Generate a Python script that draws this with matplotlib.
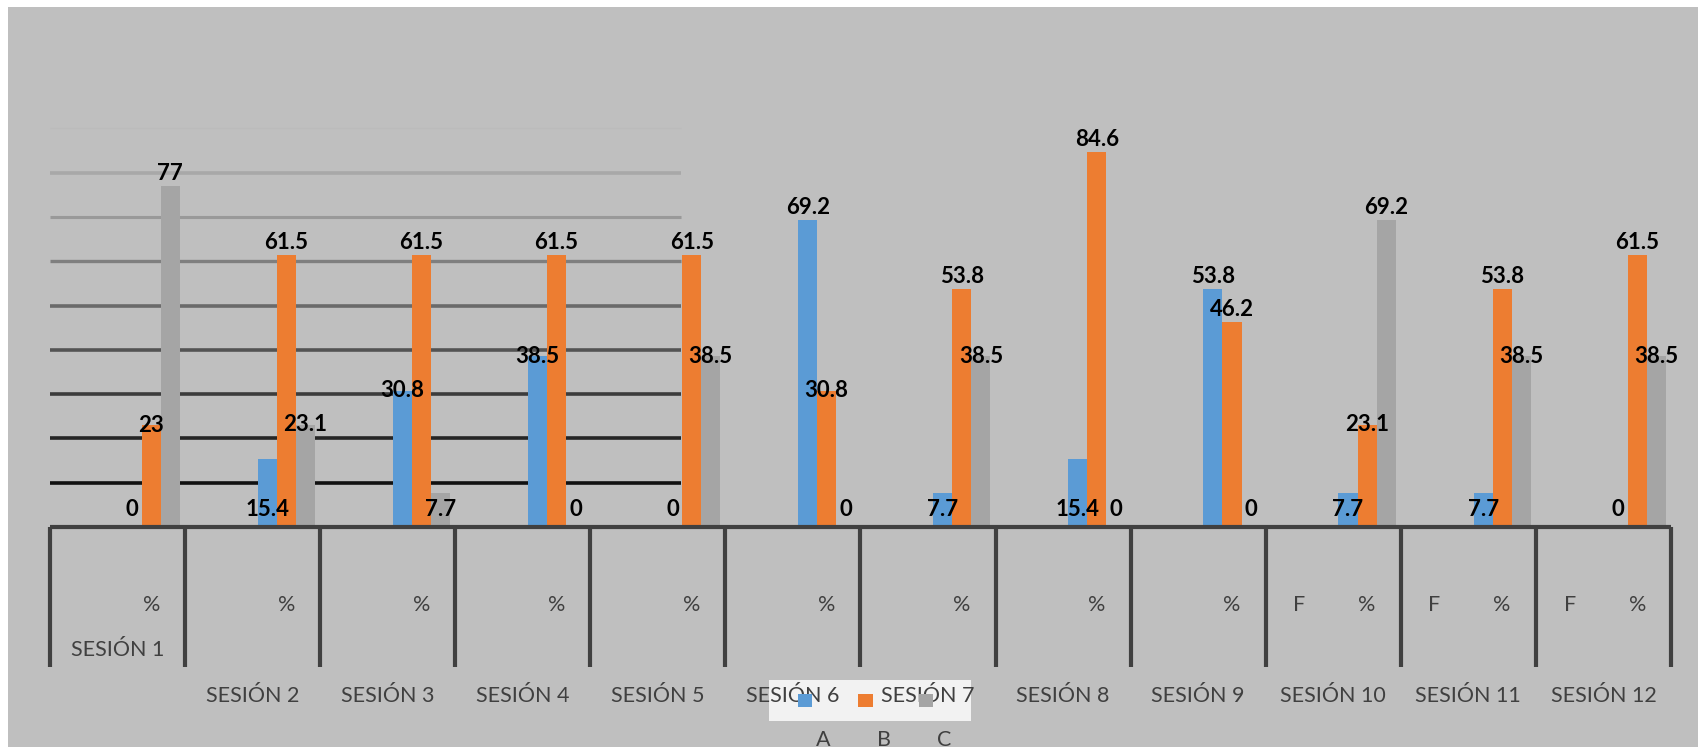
#Sesiones 1-12: porcentaje de respuestas A, B, C
import matplotlib
matplotlib.use("Agg")
import matplotlib.pyplot as plt
from matplotlib.patches import Rectangle

sessions = ["SESIÓN %d" % i for i in range(1, 13)]
series = ["A", "B", "C"]
colors = ["#5B9BD5", "#ED7D31", "#A5A5A5"]

vals_a = [0, 15.4, 30.8, 38.5, 0, 69.2, 7.7, 15.4, 53.8, 7.7, 7.7, 0]
vals_b = [23, 61.5, 61.5, 61.5, 61.5, 30.8, 53.8, 84.6, 46.2, 23.1, 53.8, 61.5]
vals_c = [77, 23.1, 7.7, 0, 38.5, 0, 38.5, 0, 0, 69.2, 38.5, 38.5]
values = [vals_a, vals_b, vals_c]

# inner level of the category axis ("F" only shown for the last three)
sub_f = ["", "", "", "", "", "", "", "", "", "F", "F", "F"]
sub_pct = ["%"] * 12

grid_levels = [10, 20, 30, 40, 50, 60, 70, 80, 90]
grid_colors = ["#111111", "#252525", "#3c3c3c", "#535353", "#6a6a6a",
               "#7f7f7f", "#999999", "#a8a8a8", "#bbbbbb"]
grid_widths = [2.6, 2.6, 2.6, 2.6, 2.6, 2.4, 2.2, 2.6, 1.0]

fam = ["Lato", "DejaVu Sans"]
txt_col = "#404040"

fig = plt.figure(figsize=(16.99, 7.47), dpi=100)
fig.patch.set_facecolor("white")
fig.patches.append(Rectangle((8 / 1699, 0), 1 - 8 / 1699, 1 - 7 / 747,
                             transform=fig.transFigure, facecolor="#BFBFBF",
                             edgecolor="none", zorder=-5))

ax = fig.add_axes([50 / 1699, (747 - 527) / 747, 1621 / 1699, 443 / 747])
ax.set_facecolor("none")
ax.set_zorder(1)
ax.set_xlim(-0.5, 23.5)
ax.set_ylim(0, 100)
for s in ax.spines.values():
    s.set_visible(False)
ax.set_xticks([])
ax.set_yticks([])

# gridlines only over the left part, like the original
for lv, gc, gw in zip(grid_levels, grid_colors, grid_widths):
    ax.plot([-0.5, 8.84], [lv, lv], color=gc, lw=gw, solid_capstyle="butt", zorder=1)

w = 0.282
for k in range(3):
    xs = [2 * i + 1 + (k - 1) * w for i in range(12)]
    ax.bar(xs, values[k], width=w, color=colors[k], zorder=2)
    for x, v in zip(xs, values[k]):
        lab = "%g" % v
        if v >= 40:
            ax.annotate(lab, (x, v), xytext=(0, 4.3), textcoords="offset points",
                        ha="center", va="baseline", fontsize=16, fontweight="bold",
                        family=fam, color="black", zorder=4)
        elif v >= 20:
            ax.text(x, v, lab, ha="center", va="center", fontsize=16,
                    fontweight="bold", family=fam, color="black", zorder=4)
        else:
            ax.text(x, 4, lab, ha="center", va="center", fontsize=16,
                    fontweight="bold", family=fam, color="black", zorder=4)

# category axis
ax.plot([-0.5, 23.5], [0, 0], color=txt_col, lw=3, solid_capstyle="butt",
        clip_on=False, zorder=3)
for i in range(13):
    ax.plot([2 * i - 0.5, 2 * i - 0.5], [0, -31.6], color=txt_col, lw=3,
            solid_capstyle="butt", clip_on=False, zorder=3)

for i in range(12):
    ax.text(2 * i, -17.6, sub_f[i], ha="center", va="center", fontsize=15.5,
            family=fam, color=txt_col, clip_on=False)
    ax.text(2 * i + 1, -17.6, sub_pct[i], ha="center", va="center", fontsize=15.5,
            family=fam, color=txt_col, clip_on=False)
    ypos = -27.8 if i == 0 else -38.1
    ax.text(2 * i + 0.5, ypos, sessions[i], ha="center", va="center",
            fontsize=15.5, family=fam, color=txt_col, clip_on=False, zorder=3)

# legend (box behind labels, keys above, names below)
ax.add_patch(Rectangle((10.15, -43.8), 2.98, 9.3, facecolor="#F2F2F2",
                       edgecolor="none", clip_on=False, zorder=2))
key_x = [10.57, 11.47, 12.36]
for k in range(3):
    ax.add_patch(Rectangle((key_x[k], -40.6), 0.21, 2.9, facecolor=colors[k],
                           edgecolor="none", clip_on=False, zorder=4))
    ax.text(key_x[k] + 0.38, -49.4, series[k], ha="center", va="baseline",
            fontsize=15.5, family=fam, color=txt_col, clip_on=False)

fig.savefig("out.png", dpi=100, facecolor=fig.get_facecolor())
